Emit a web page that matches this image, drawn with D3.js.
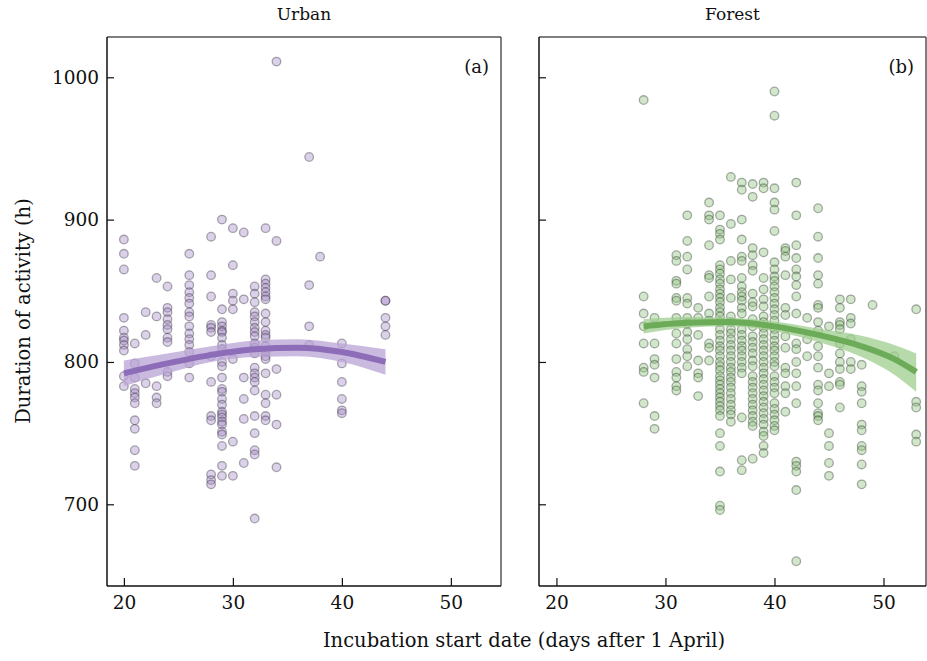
<!DOCTYPE html>
<html>
<head>
<meta charset="utf-8">
<script src="https://cdn.jsdelivr.net/npm/d3@7"></script>
<style>
  body { margin: 0; background: #fff; }
  svg { display: block; font-family: "DejaVu Serif", serif; }
  .axis text { font-family: "DejaVu Serif", serif; font-size: 18.5px; fill: #111; }
  .axis line { stroke: #111; stroke-width: 1.2; }
</style>
</head>
<body>
<div id="chart"></div>
<script>
// ---- data ----
// Urban: incubation start day and duration of activity (h) per nest
const urbanDays = [20, 21, 22, 23, 24, 26, 28, 29, 30, 31, 32, 33, 34, 37, 38, 40, 44];
const urbanDurations = [
  [886, 876, 865, 831, 822, 817, 815, 812, 808, 790, 783],
  [813, 799, 789, 781, 778, 775, 771, 759, 753, 738, 727],
  [835, 819, 785],
  [859, 832, 783, 775, 771],
  [853, 838, 835, 830, 826, 823, 817, 814, 793, 790],
  [876, 861, 854, 849, 845, 841, 835, 832, 825, 820, 816, 812, 807, 799, 789],
  [888, 861, 846, 826, 824, 821, 804, 786, 762, 759, 721, 717, 714],
  [900, 837, 828, 825, 822, 821, 817, 812, 809, 800, 797, 789, 781, 779, 774, 770, 765, 763, 761, 758, 756, 751, 749, 741, 727, 720],
  [894, 868, 848, 843, 837, 802, 744, 720],
  [891, 844, 789, 774, 760, 729],
  [853, 848, 842, 835, 832, 828, 824, 821, 818, 813, 810, 806, 796, 792, 789, 786, 780, 762, 750, 738, 735, 690],
  [894, 858, 855, 852, 849, 846, 844, 834, 828, 822, 819, 817, 811, 807, 804, 802, 792, 777, 771, 762, 759],
  [1011, 885, 795, 777, 756, 726],
  [944, 854, 825, 812],
  [874],
  [813, 799, 786, 774, 766, 764],
  [843, 843, 831, 825, 819]
];

// Forest
const forestDays = [28, 29, 31, 32, 33, 34, 35, 36, 37, 38, 39, 40, 41, 42, 43, 44, 45, 46, 47, 48, 49, 51, 53];
const forestDurations = [
  [984, 846, 834, 825, 813, 796, 793, 771],
  [831, 813, 802, 798, 789, 762, 753],
  [875, 871, 857, 855, 845, 843, 831, 820, 813, 802, 793, 789, 783, 780],
  [903, 885, 874, 865, 845, 841, 831, 827, 821, 816, 809, 804, 797],
  [838, 831, 819, 801, 792, 789, 776],
  [912, 903, 900, 882, 861, 859, 846, 834, 829, 813, 810, 801],
  [903, 893, 890, 886, 868, 865, 862, 858, 855, 851, 848, 845, 842, 838, 835, 832, 828, 823, 819, 815, 811, 808, 804, 800, 797, 794, 790, 787, 784, 781, 778, 775, 772, 769, 766, 762, 750, 741, 723, 699, 696],
  [930, 897, 871, 858, 845, 832, 828, 823, 820, 816, 812, 808, 804, 800, 796, 793, 789, 786, 782, 778, 774, 770, 766, 763, 758],
  [926, 921, 900, 886, 874, 871, 859, 853, 849, 846, 843, 838, 834, 823, 819, 815, 811, 808, 804, 800, 796, 792, 761, 731, 724],
  [925, 916, 880, 875, 868, 864, 848, 842, 839, 830, 825, 818, 814, 810, 806, 801, 797, 790, 786, 782, 778, 774, 770, 766, 762, 758, 755, 732],
  [926, 922, 877, 859, 851, 844, 839, 832, 828, 824, 820, 816, 812, 808, 804, 800, 796, 792, 788, 784, 780, 776, 772, 768, 764, 760, 756, 751, 748, 741, 736],
  [990, 973, 922, 912, 907, 892, 870, 865, 860, 857, 853, 849, 845, 841, 837, 833, 829, 823, 819, 815, 811, 808, 804, 800, 797, 790, 786, 782, 778, 771, 767, 763, 759, 755, 752],
  [880, 878, 874, 861, 838, 833, 818, 810, 796, 792, 783, 778, 765],
  [926, 903, 882, 873, 865, 860, 854, 846, 834, 813, 809, 800, 792, 783, 771, 730, 727, 723, 710, 660],
  [831, 816, 804],
  [908, 888, 873, 861, 855, 840, 838, 828, 822, 811, 804, 796, 784, 780, 771, 764, 762, 759],
  [825, 792, 783, 750, 741, 729, 720],
  [844, 838, 828, 826, 823, 813, 806, 800, 795, 786, 784, 768],
  [844, 831, 827, 816, 800, 795],
  [798, 783, 779, 771, 756, 752, 741, 738, 728, 714],
  [840],
  [804],
  [837, 772, 768, 749, 744]
];

// fitted curves with confidence band
const urbanFitDays = [20, 24, 28, 32, 36, 40, 44];
const urbanFitMean = [792, 799, 805, 809, 810, 807, 800];
const urbanFitLow  = [783, 792, 800, 803.5, 804, 800, 791];
const urbanFitHigh = [801, 806, 811, 815, 816, 813, 809];

const forestFitDays = [28, 32, 36, 40, 44, 48, 51, 53];
const forestFitMean = [825, 827.5, 828, 825, 819, 811, 802, 793];
const forestFitLow  = [820, 824, 825, 821.5, 814, 803.5, 791, 779];
const forestFitHigh = [830, 831.5, 831, 828.5, 823.5, 818.5, 812, 806];

const xTicks = [20, 30, 40, 50];
const yTicks = [700, 800, 900, 1000];

// ---- layout ----
const W = 927, H = 661;
const plotTop = 37, plotBottom = 586;

const panels = [
  {
    title: "Urban", tag: "(a)", left: 107, right: 501, xDomain: [18.45, 54.6], showY: true,
    days: urbanDays, vals: urbanDurations,
    fit: [urbanFitDays, urbanFitMean, urbanFitLow, urbanFitHigh],
    fill: "#a48cc6", stroke: "#2e2638", line: "#8d6db8", band: "#b9a3d6"
  },
  {
    title: "Forest", tag: "(b)", left: 539, right: 926, xDomain: [18.4, 53.9], showY: false,
    days: forestDays, vals: forestDurations,
    fit: [forestFitDays, forestFitMean, forestFitLow, forestFitHigh],
    fill: "#8fc07f", stroke: "#22331f", line: "#6cab58", band: "#9fcd8f"
  }
];

const svg = d3.select("#chart").append("svg")
  .attr("width", W)
  .attr("height", H);

const y = d3.scaleLinear()
  .domain([642.6, 1028.3])
  .range([plotBottom - plotTop, 0]);

panels.forEach(function(p) {
  let w = p.right - p.left;
  let h = plotBottom - plotTop;
  let x = d3.scaleLinear().domain(p.xDomain).range([0, w]);

  let g = svg.append("g").attr("transform", "translate(" + p.left + "," + plotTop + ")");

  // clip so nothing leaks outside the frame
  let clipId = "clip-" + p.title;
  g.append("clipPath").attr("id", clipId)
    .append("rect").attr("width", w).attr("height", h);

  let plot = g.append("g").attr("clip-path", "url(#" + clipId + ")");

  // points
  let pts = [];
  p.days.forEach(function(d, i) {
    p.vals[i].forEach(function(v) { pts.push({day: d, val: v}); });
  });

  plot.selectAll("circle")
    .data(pts)
    .enter().append("circle")
    .attr("cx", d => x(d.day))
    .attr("cy", d => y(d.val))
    .attr("r", 4.3)
    .attr("fill", p.fill)
    .attr("fill-opacity", 0.4)
    .attr("stroke", p.stroke)
    .attr("stroke-opacity", 0.38)
    .attr("stroke-width", 1.3);

  // fit band and line
  let fitRows = p.fit[0].map(function(d, i) {
    return {day: d, mean: p.fit[1][i], lo: p.fit[2][i], hi: p.fit[3][i]};
  });

  let area = d3.area()
    .x(d => x(d.day))
    .y0(d => y(d.lo))
    .y1(d => y(d.hi))
    .curve(d3.curveMonotoneX);

  plot.append("path")
    .datum(fitRows)
    .attr("fill", p.band)
    .attr("fill-opacity", 0.75)
    .attr("d", area);

  let line = d3.line()
    .x(d => x(d.day))
    .y(d => y(d.mean))
    .curve(d3.curveMonotoneX);

  plot.append("path")
    .datum(fitRows)
    .attr("fill", "none")
    .attr("stroke", p.line)
    .attr("stroke-width", 6)
    .attr("d", line);

  // axes
  let xAxis = d3.axisBottom(x)
    .tickValues(xTicks)
    .tickSizeInner(-8)
    .tickSizeOuter(0)
    .tickPadding(10);

  let xg = g.append("g")
    .attr("class", "axis")
    .attr("transform", "translate(0," + h + ")")
    .call(xAxis);
  xg.select(".domain").remove();

  let yAxis = d3.axisLeft(y)
    .tickValues(yTicks)
    .tickFormat(d3.format("d"))
    .tickSizeInner(-7)
    .tickSizeOuter(0)
    .tickPadding(8);

  let yg = g.append("g")
    .attr("class", "axis")
    .call(yAxis);
  yg.select(".domain").remove();
  if (!p.showY) yg.selectAll("text").remove();

  // frame: top/right grey, left/bottom black
  g.append("line").attr("x1", 0).attr("x2", w).attr("y1", 0).attr("y2", 0)
    .attr("stroke", "#555").attr("stroke-width", 1.5);
  g.append("line").attr("x1", w).attr("x2", w).attr("y1", 0).attr("y2", h)
    .attr("stroke", "#555").attr("stroke-width", 1.5);
  g.append("line").attr("x1", 0).attr("x2", 0).attr("y1", 0).attr("y2", h)
    .attr("stroke", "#111").attr("stroke-width", 1.5);
  g.append("line").attr("x1", 0).attr("x2", w).attr("y1", h).attr("y2", h)
    .attr("stroke", "#111").attr("stroke-width", 1.5);

  // panel title and tag
  g.append("text")
    .attr("x", w / 2)
    .attr("y", -17)
    .attr("text-anchor", "middle")
    .style("font-size", "17px")
    .attr("fill", "#111")
    .text(p.title);

  g.append("text")
    .attr("x", w - 12)
    .attr("y", 36)
    .attr("text-anchor", "end")
    .style("font-size", "18px")
    .attr("fill", "#111")
    .text(p.tag);
});

// axis titles
svg.append("text")
  .attr("x", 524)
  .attr("y", 647)
  .attr("text-anchor", "middle")
  .style("font-size", "19.5px")
  .attr("fill", "#111")
  .text("Incubation start date (days after 1 April)");

svg.append("text")
  .attr("transform", "translate(30,311) rotate(-90)")
  .attr("text-anchor", "middle")
  .style("font-size", "19.5px")
  .attr("fill", "#111")
  .text("Duration of activity (h)");
</script>
</body>
</html>
